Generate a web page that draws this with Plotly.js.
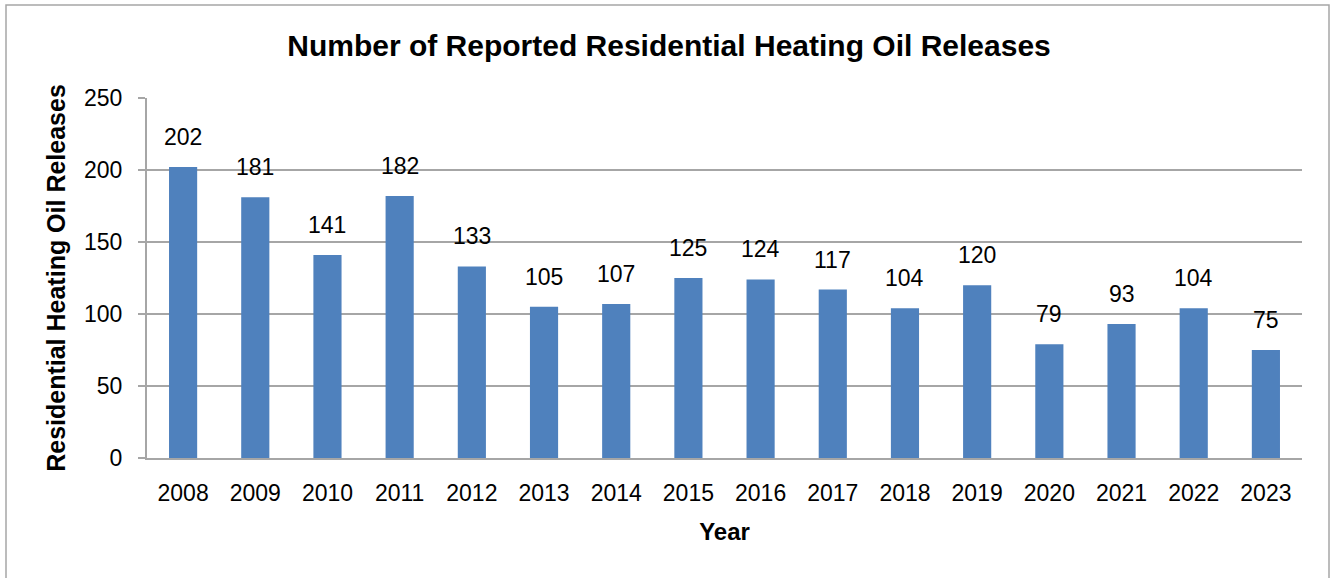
<!DOCTYPE html>
<html>
<head>
<meta charset="utf-8">
<script src="https://cdn.plot.ly/plotly-3.0.1.min.js"></script>
<style>html,body{margin:0;padding:0;background:#fff;}#chart{width:1331px;height:578px;}</style>
</head>
<body>
<div id="chart"></div>
<script>
const years = ['2008','2009','2010','2011','2012','2013','2014','2015','2016','2017','2018','2019','2020','2021','2022','2023'];
const releases = [202,181,141,182,133,105,107,125,124,117,104,120,79,93,104,75];
const yTicks = [0,50,100,150,200,250];

const FONT = 'Liberation Sans, Arial, sans-serif';
const grey = '#a6a6a6';

const trace = {
  type: 'bar',
  x: years,
  y: releases,
  marker: {color: '#4f81bd', line: {width: 0}},
  hoverinfo: 'x+y'
};

const annotations = years.map((yr, i) => ({
  x: i, y: releases[i], xref: 'x', yref: 'y',
  text: String(releases[i]), showarrow: false,
  yanchor: 'bottom', yshift: 15,
  font: {family: FONT, size: 23, color: '#000'}
}));

const layout = {
  width: 1331, height: 578,
  paper_bgcolor: '#fff', plot_bgcolor: '#fff',
  margin: {l: 147, r: 29, t: 98, b: 120},
  bargap: 0.61,
  showlegend: false,
  font: {family: FONT, color: '#000'},
  title: {
    text: '<b>Number of Reported Residential Heating Oil Releases</b>',
    font: {family: FONT, size: 30, color: '#000'},
    x: 669/1331, xref: 'container', xanchor: 'center',
    y: 1 - 45/578, yref: 'container', yanchor: 'middle'
  },
  xaxis: {
    type: 'category', range: [-0.5, years.length - 0.5],
    showline: true, linecolor: grey, linewidth: 2,
    ticks: 'outside', ticklen: 13, tickcolor: 'rgba(0,0,0,0)',
    tickfont: {family: FONT, size: 23, color: '#000'},
    showgrid: false, zeroline: false,
    title: {text: '<b>Year</b>', font: {family: FONT, size: 24, color: '#000'}, standoff: 19}
  },
  yaxis: {
    range: [0, 250], tickvals: yTicks, ticktext: yTicks.map(String),
    showline: true, linecolor: grey, linewidth: 2,
    showgrid: true, gridcolor: grey, gridwidth: 1.5,
    zeroline: false,
    ticks: 'outside', ticklen: 7, tickcolor: grey, tickwidth: 1.5,
    ticklabelstandoff: 11,
    tickfont: {family: FONT, size: 23, color: '#000'},
    title: {text: '<b>Residential Heating Oil Releases</b>', font: {family: FONT, size: 25, color: '#000'}, standoff: 11}
  },
  annotations: annotations,
  shapes: [{
    type: 'rect', xref: 'paper', yref: 'paper',
    x0: (6-147)/1155, x1: (1329-147)/1155,
    y0: -0.5, y1: (458-5)/360,
    line: {color: '#a6a6a6', width: 1.5}, fillcolor: 'rgba(0,0,0,0)', layer: 'below'
  }]
};

Plotly.newPlot('chart', [trace], layout, {displayModeBar: false, staticPlot: true});
</script>
</body>
</html>
